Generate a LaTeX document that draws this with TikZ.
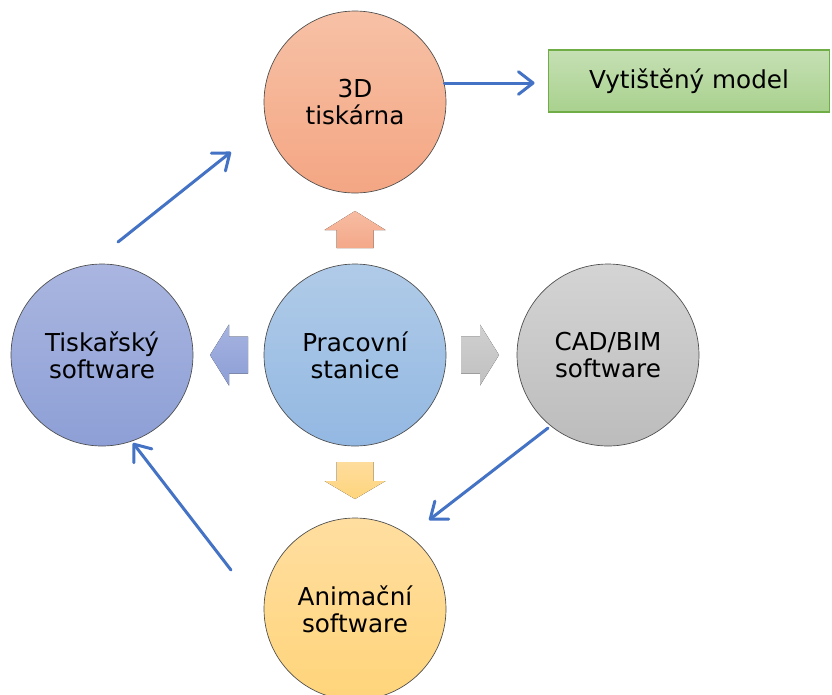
\documentclass[tikz,border=0pt]{standalone}
\usepackage{fontspec}
\setmainfont{DejaVu Sans}
\usepackage{tikz}
\usetikzlibrary{arrows.meta}

\definecolor{modra}{HTML}{4472C4}
\definecolor{zelenaR}{HTML}{70AD47}
\tikzset{
  kruh/.style={circle, draw=black!70, line width=0.5pt, minimum size=136.5pt,
    inner sep=0pt, align=center, font=\fontsize{18.5}{20.25}\selectfont},
  spoj/.style={draw=modra, line width=2.25pt, line cap=round,
    -{Straight Barb[length=11pt,width=17pt,line cap=round,line join=round]}}
}

\begin{document}
\begin{tikzpicture}[x=0.75pt, y=-0.75pt]
\useasboundingbox (0,0) rectangle (832,694);

% kruhy
\node[kruh, top color={rgb,255:red,247;green,193;blue,166}, bottom color={rgb,255:red,244;green,166;blue,131}] (tiskarna) at (355,102) {3D\\tiskárna};
\node[kruh, top color={rgb,255:red,176;green,203;blue,232}, bottom color={rgb,255:red,147;green,184;blue,226}] (stanice) at (355,355) {Pracovní\\stanice};
\node[kruh, top color={rgb,255:red,170;green,182;blue,224}, bottom color={rgb,255:red,141;green,159;blue,214}] (tisksw) at (102,355) {Tiskařský\\software};
\node[kruh, top color={rgb,255:red,212;green,212;blue,212}, bottom color={rgb,255:red,188;green,188;blue,188}] (cad) at (608,355) {CAD/BIM\\software};
\node[kruh, top color={rgb,255:red,255;green,222;blue,160}, bottom color={rgb,255:red,255;green,212;blue,122}] (anim) at (355,609) {Animační\\software};

\node[draw=zelenaR, line width=1.1pt, top color={rgb,255:red,197;green,224;blue,180}, bottom color={rgb,255:red,169;green,209;blue,142},
  minimum width=211pt, minimum height=46.5pt, font=\fontsize{18.5}{20.25}\selectfont] (model) at (689,81) {Vytištěný model};

% blokove sipky
\fill[top color={rgb,255:red,247;green,188;blue,162}, bottom color={rgb,255:red,244;green,168;blue,137}]
  (336.5,248) -- (336.5,230) -- (324.5,230) -- (355,211) -- (385.5,230) -- (373.5,230) -- (373.5,248) -- cycle;
\fill[top color={rgb,255:red,166;green,179;blue,224}, bottom color={rgb,255:red,140;green,158;blue,214}]
  (248,336.5) -- (229,336.5) -- (229,324.5) -- (210,355) -- (229,385.5) -- (229,373.5) -- (248,373.5) -- cycle;
\fill[top color={rgb,255:red,208;green,208;blue,208}, bottom color={rgb,255:red,192;green,192;blue,192}]
  (461,336.5) -- (480,336.5) -- (480,324.5) -- (499,355) -- (480,385.5) -- (480,373.5) -- (461,373.5) -- cycle;
\fill[top color={rgb,255:red,254;green,220;blue,156}, bottom color={rgb,255:red,254;green,213;blue,125}]
  (336.5,462) -- (336.5,481) -- (324.5,481) -- (355,499) -- (385.5,481) -- (373.5,481) -- (373.5,462) -- cycle;

% spojnice
\coordinate (ts1) at (118,242);
\coordinate (ts2) at (231,152);
\coordinate (cd1) at (548,428);
\coordinate (cd2) at (429,520);
\coordinate (an1) at (231,570);
\coordinate (an2) at (133,443);

\draw[spoj, shorten >=9.75pt] (tiskarna.12) -- (tiskarna.12 -| model.west);
\draw[spoj] (ts1) -- (ts2);
\draw[spoj] (cd1) -- (cd2);
\draw[spoj] (an1) -- (an2);

\end{tikzpicture}
\end{document}
